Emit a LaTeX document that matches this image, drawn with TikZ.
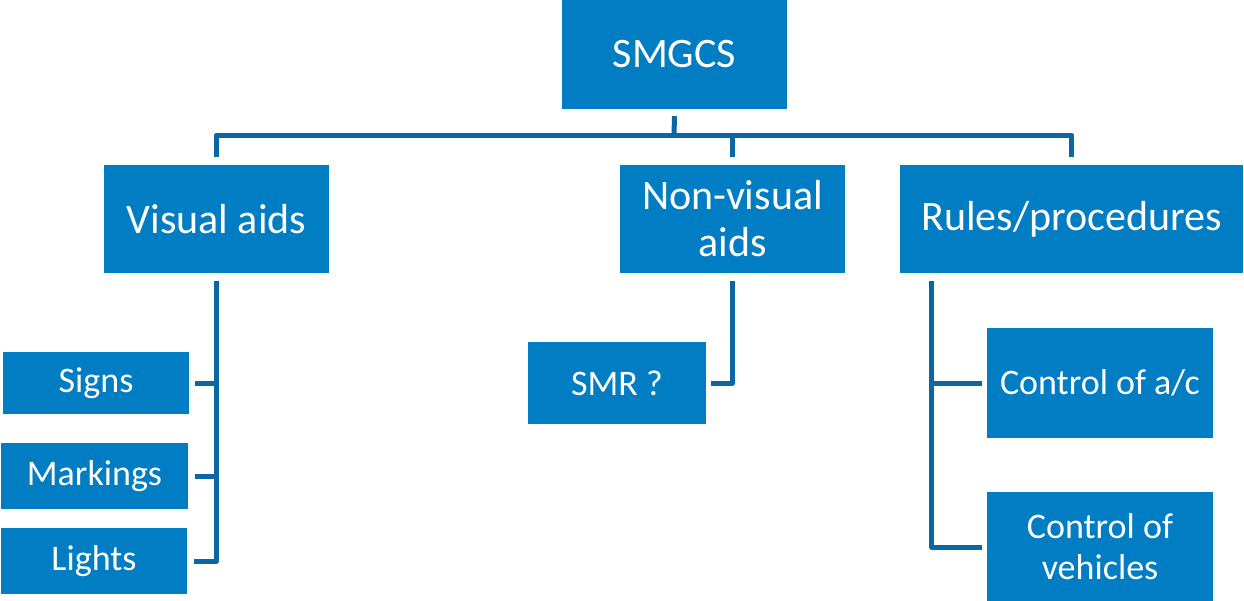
\documentclass[tikz,border=0pt]{standalone}
\usepackage{fontspec}
\setmainfont{Carlito}
\definecolor{boxblue}{HTML}{007DC3}
\definecolor{lineblue}{HTML}{0A67A3}
\begin{document}
\begin{tikzpicture}[x=1pt,y=-1pt,
  box/.style={fill=boxblue, draw=none, text=white, align=center, inner sep=0pt, font=\fontsize{42}{47}\selectfont},
  smallbox/.style={box, font=\fontsize{36}{41}\selectfont},
  conn/.style={draw=lineblue, line width=5pt, line join=round}]
\useasboundingbox (0,0) rectangle (1244,600);
\clip (0,0) rectangle (1244,600);
% top level
\node[box, minimum width=225pt, minimum height=109pt] (smgcs) at (674.5,54.5) {SMGCS};
\node[box, minimum width=225pt, minimum height=108pt] (vis) at (216.5,219) {Visual aids};
\node[box, minimum width=225pt, minimum height=108pt] (nonvis) at (732.5,219) {Non-visual\\aids};
\node[box, minimum width=343pt, minimum height=108pt] (rules) at (1071.5,219) {Rules/procedures};
% children
\node[smallbox, minimum width=186pt, minimum height=62pt] (signs) at (96,383) {Signs};
\node[smallbox, minimum width=187pt, minimum height=66pt] (markings) at (94.5,476) {Markings};
\node[smallbox, minimum width=186pt, minimum height=66pt] (lights) at (94,561) {Lights};
\node[smallbox, minimum width=178pt, minimum height=82pt] (smr) at (617,383) {SMR ?};
\node[smallbox, minimum width=226pt, minimum height=110pt] (ctrlac) at (1100,383) {Control of a/c};
\node[smallbox, minimum width=226pt, minimum height=110pt] (ctrlveh) at (1100,547) {Control of\\vehicles};
% connectors
\coordinate (bus) at (674,135);
\draw[conn] ([yshift=8pt]vis.north) |- (bus) -| ([yshift=8pt]rules.north);
\draw[conn] ([yshift=-7pt]smgcs.south) -- (bus);
\draw[conn] ([yshift=8pt]nonvis.north) -- (nonvis.north |- bus);
% visual aids branch
\draw[conn] ([yshift=-8pt]vis.south) |- ([xshift=7pt]lights.east);
\draw[conn] ([xshift=6pt]signs.east) -- (signs.east -| vis.south);
\draw[conn] ([xshift=7pt]markings.east) -- (markings.east -| vis.south);
% non-visual branch
\draw[conn] ([yshift=-8pt]nonvis.south) |- ([xshift=5pt]smr.east);
% rules branch
\coordinate (rbus) at ([xshift=32pt,yshift=-8pt]rules.south west);
\draw[conn] (rbus) |- ([xshift=-5pt]ctrlveh.west);
\draw[conn] ([xshift=-5pt]ctrlac.west) -- (ctrlac.west -| rbus);
\end{tikzpicture}
\end{document}
